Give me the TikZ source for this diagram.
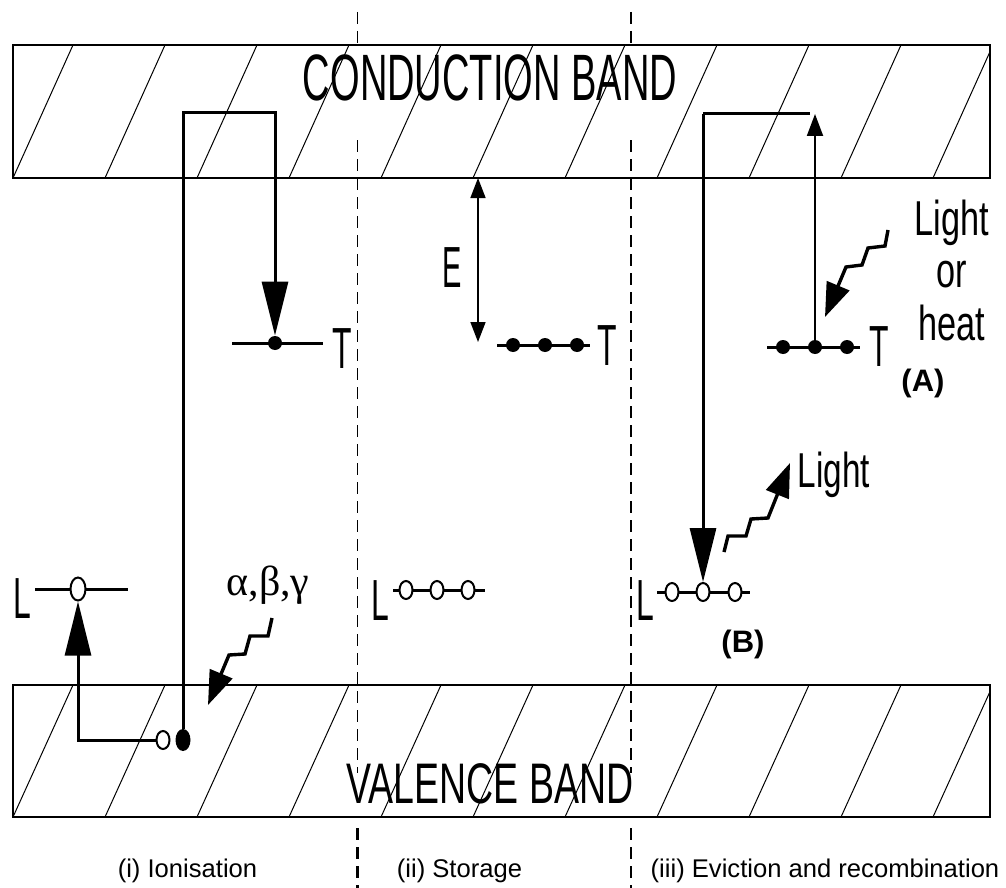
\documentclass[tikz,border=0pt]{standalone}
\usepackage{fontspec}
\setmainfont{Liberation Sans}
\newfontfamily\greekfont{Liberation Serif}
\usepackage{tikz}
\usetikzlibrary{arrows.meta,shapes.geometric,calc}
\newcommand{\narrow}[2]{\scalebox{#1}[1]{#2}}

\begin{document}
\begin{tikzpicture}[x=.5pt,y=-.5pt,
  bandline/.style={line width=1pt},
  hatch/.style={line width=.5pt},
  divider/.style={line width=.8pt,dash pattern=on 6pt off 3.5pt},
  level/.style={line width=1.5pt},
  full/.style={circle,fill,inner sep=0pt,minimum size=7pt},
  empty/.style={ellipse,draw,fill=white,line width=1pt,inner sep=0pt,
    minimum width=6.5pt,minimum height=9pt},
  bigarrow/.style={line width=1.5pt,-{Triangle[width=13pt,length=27pt]}},
  thinarrow/.style={line width=1pt,-{Triangle[width=8pt,length=11pt]}},
  ebar/.style={line width=.8pt,{Triangle[width=7.5pt,length=10pt]}-{Triangle[width=7.5pt,length=10pt]}},
  photon/.style={line width=1.7pt,line join=miter,-{Triangle[width=12pt,length=17pt]}},
  letter/.style={inner sep=0pt,anchor=base,font=\fontsize{29}{29}\selectfont},
  caption/.style={inner sep=0pt,anchor=base,font=\fontsize{12.8}{15}\selectfont}]
  \useasboundingbox (0,0) rectangle (1006,888);

  % section dividers
  \foreach \x in {357.5,631} {
    \draw[divider] (\x,12) -- (\x,45);
    \draw[divider] (\x,140) -- (\x,773);
    \draw[divider,line width=1.3pt] (\x,828) -- (\x,888);
  }

  % conduction and valence bands
  \foreach \top/\bot in {45/178,685/817} {
    \begin{scope}
      \clip (13,\top) rectangle (990,\bot);
      \foreach \k in {0,...,10}
        \draw[hatch] (13+92*\k,\bot) -- (73+92*\k,\top);
    \end{scope}
    \draw[bandline] (13,\top) rectangle (990,\bot);
  }
  \node[inner sep=0pt,anchor=base,font=\fontsize{32.8}{33}\selectfont] (cbtext)
    at (490,101) {\narrow{.58}{CONDUCTION BAND}};
  \node[inner sep=0pt,anchor=base,font=\fontsize{28.6}{29}\selectfont] (vbtext)
    at (490,803) {\narrow{.655}{VALENCE BAND}};

  % (i) ionisation
  \draw[level] (232,343) -- (323,343);
  \node[full] (t1) at (275,343) {};
  \node[letter] (t1lab) at (342,368) {\narrow{.55}{T}};
  \draw[level] (35,589) -- (128,589);
  \node[empty,minimum width=7.5pt,minimum height=11.5pt] (l1) at (78,589) {};
  \node[letter] (l1lab) at (22,618) {\narrow{.55}{L}};
  \node[empty,minimum height=9pt] (h1) at (163,740) {};
  \node[full,ellipse,minimum width=7.5pt,minimum height=11pt] (e1) at (183,740) {};
  \coordinate (c1) at (275,113);
  \draw[bigarrow] (e1.north) |- (c1) -- (t1.north);
  \draw[bigarrow] (h1.west) -| (l1.south);
  \node[inner sep=0pt,anchor=base,font=\greekfont\fontsize{21}{21}\selectfont] (abg)
    at (268,595) {α,β,γ};
  \coordinate (abgfrom) at (272,618);
  \draw[photon] (abgfrom) -- (268,636) -- (250,636) -- (245,654) -- (229,655) -- (208,705);

  % (ii) storage
  \coordinate (etop) at (478,178);
  \coordinate (ebot) at (478,342);
  \draw[ebar] (etop) -- (ebot);
  \node[letter] (elab) at (452,287) {\narrow{.5}{E}};
  \draw[level] (497,345) -- (590,345);
  \foreach \x [count=\i] in {513,545,577}
    \node[full] (t2\i) at (\x,345) {};
  \node[letter] (t2lab) at (607,365) {\narrow{.55}{T}};
  \draw[level] (393,590) -- (485,590);
  \foreach \x [count=\i] in {406,437,468}
    \node[empty] (l2\i) at (\x,590) {};
  \node[letter] (l2lab) at (380,620) {\narrow{.55}{L}};

  % (iii) eviction and recombination
  \draw[level] (767,347) -- (860,347);
  \foreach \x [count=\i] in {783,815,847}
    \node[full] (t3\i) at (\x,347) {};
  \node[letter] (t3lab) at (879,366) {\narrow{.55}{T}};
  \draw[level] (657,592) -- (750,592);
  \foreach \x [count=\i] in {672,703,735}
    \node[empty] (l3\i) at (\x,592) {};
  \node[letter] (l3lab) at (645,620) {\narrow{.55}{L}};
  \coordinate (c3) at (810,114);
  \draw[line width=1.5pt] (c3) -- (c3 -| l32);
  \draw[bigarrow] (c3 -| l32) -- (l32.north);
  \draw[thinarrow] (t32.north) -- (t32.north |- c3);

  \node[inner sep=0pt,anchor=base,font=\fontsize{24.5}{25}\selectfont] (light1) at (952,235) {\narrow{.7}{Light}};
  \node[inner sep=0pt,anchor=base,font=\fontsize{24.5}{25}\selectfont] (or1) at (952,287) {\narrow{.7}{or}};
  \node[inner sep=0pt,anchor=base,font=\fontsize{24.5}{25}\selectfont] (heat1) at (952,340) {\narrow{.7}{heat}};
  \coordinate (heatfrom) at (888,230);
  \draw[photon] (heatfrom) -- (885,246) -- (868,248) -- (862,265) -- (846,267) -- (825,317);
  \node[inner sep=0pt,anchor=base,font=\bfseries\fontsize{15.5}{16}\selectfont] (A) at (923,391) {(A)};

  \node[inner sep=0pt,anchor=base,font=\fontsize{24.5}{25}\selectfont] (light2) at (834,487) {\narrow{.68}{Light}};
  \coordinate (lightfrom) at (724,552);
  \draw[photon] (lightfrom) -- (728,536) -- (746,536) -- (751,519) -- (768,518) -- (790,463);
  \node[inner sep=0pt,anchor=base,font=\bfseries\fontsize{15.5}{16}\selectfont] (B) at (743,652) {(B)};

  % captions
  \node[caption] (cap1) at (187.5,877) {(i) Ionisation};
  \node[caption] (cap2) at (459.5,877) {(ii) Storage};
  \node[caption] (cap3) at (825,877) {(iii) Eviction and recombination};
\end{tikzpicture}
\end{document}
